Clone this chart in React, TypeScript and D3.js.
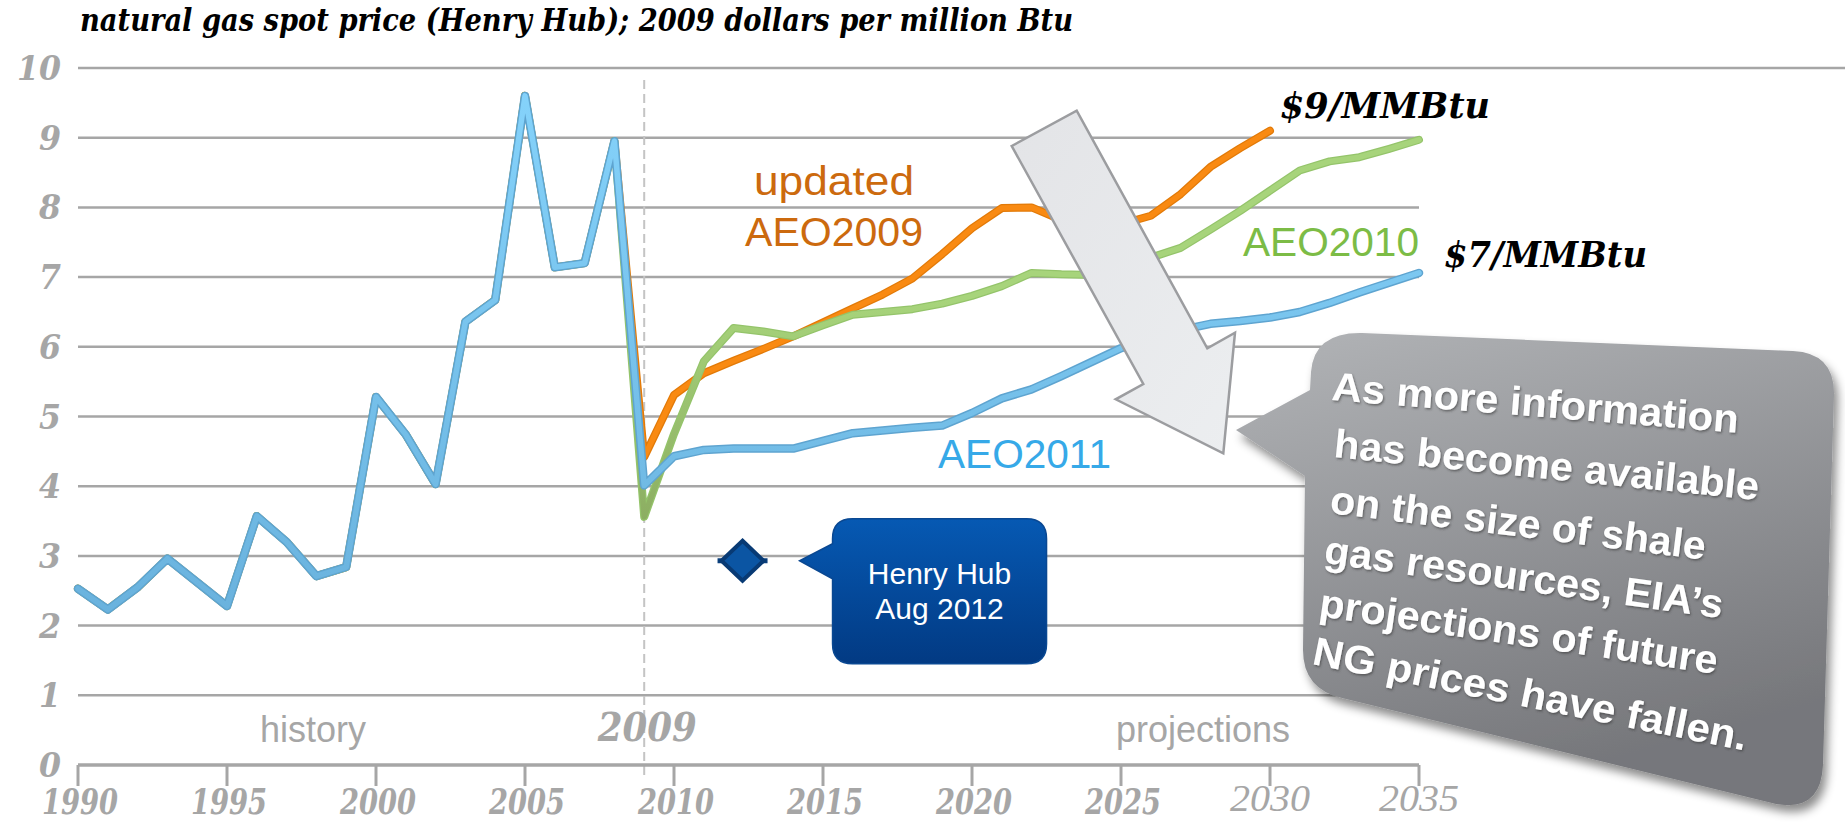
import React from 'react';
import * as d3 from 'd3';

// ---------- DATA ----------
const TITLE = 'natural gas spot price (Henry Hub); 2009 dollars per million Btu';

const HIST_YEARS = [1990, 1991, 1992, 1993, 1994, 1995, 1996, 1997, 1998, 1999, 2000, 2001, 2002, 2003, 2004, 2005, 2006, 2007, 2008];
const HIST_PRICE = [2.53, 2.23, 2.55, 2.96, 2.62, 2.28, 3.57, 3.2, 2.71, 2.84, 5.28, 4.74, 4.03, 6.36, 6.67, 9.6, 7.14, 7.2, 8.95];

const PROJ_YEARS_2030 = [2009, 2010, 2011, 2012, 2013, 2014, 2015, 2016, 2017, 2018, 2019, 2020, 2021, 2022, 2023, 2024, 2025, 2026, 2027, 2028, 2029, 2030];
const PROJ_YEARS_2035 = [2009, 2010, 2011, 2012, 2013, 2014, 2015, 2016, 2017, 2018, 2019, 2020, 2021, 2022, 2023, 2024, 2025, 2026, 2027, 2028, 2029, 2030, 2031, 2032, 2033, 2034, 2035];

const AEO2009_PRICE = [4.42, 5.31, 5.62, 5.8, 5.97, 6.15, 6.35, 6.55, 6.75, 6.98, 7.33, 7.7, 7.99, 8.0, 7.82, 7.72, 7.76, 7.88, 8.19, 8.58, 8.85, 9.1];
const AEO2010_PRICE = [3.56, 4.75, 5.79, 6.27, 6.22, 6.15, 6.31, 6.46, 6.5, 6.54, 6.62, 6.73, 6.87, 7.06, 7.04, 7.03, 7.12, 7.28, 7.42, 7.68, 7.95, 8.24, 8.53, 8.66, 8.72, 8.84, 8.97];
const AEO2011_PRICE = [4.01, 4.43, 4.52, 4.54, 4.54, 4.54, 4.65, 4.76, 4.8, 4.84, 4.87, 5.05, 5.26, 5.39, 5.58, 5.78, 5.98, 6.12, 6.24, 6.33, 6.37, 6.42, 6.5, 6.63, 6.78, 6.92, 7.06];

const HH_AUG2012 = { year: 2012.3, price: 2.93 };

const Y_TICKS = [0, 1, 2, 3, 4, 5, 6, 7, 8, 9, 10];
const X_TICKS = [1990, 1995, 2000, 2005, 2010, 2015, 2020, 2025, 2030, 2035];
const DIVIDER_YEAR = 2009;

const NOTE_LINES = [
  'As more information',
  'has become available',
  'on the size of shale',
  'gas resources, EIA\u2019s',
  'projections of future',
  'NG prices have fallen.',
];

// ---------- LAYOUT ----------
const W = 1845;
const H = 824;
const x = d3.scaleLinear().domain([1990, 2035]).range([78, 1419]);
const y = d3.scaleLinear().domain([0, 10]).range([765, 68]);

const line = d3
  .line<[number, number]>()
  .x((d) => x(d[0]))
  .y((d) => y(d[1]))
  .curve(d3.curveLinear);

const zip = (ys: number[], vs: number[]): [number, number][] => ys.map((yr, i) => [yr, vs[i]]);
const hist = zip(HIST_YEARS, HIST_PRICE);
const orangeData = hist.concat(zip(PROJ_YEARS_2030, AEO2009_PRICE));
const greenData = hist.concat(zip(PROJ_YEARS_2035, AEO2010_PRICE));
const blueData = hist.concat(zip(PROJ_YEARS_2035, AEO2011_PRICE));

const NOTE_LAYOUT = [
  { x: 1331, y: 400, a: 4.6, w: 408 },
  { x: 1333, y: 457, a: 5.8, w: 427 },
  { x: 1329, y: 513, a: 7.1, w: 378 },
  { x: 1323, y: 563, a: 7.9, w: 402 },
  { x: 1318, y: 616, a: 8.3, w: 402 },
  { x: 1311, y: 664, a: 11.3, w: 442 },
];

const GRID = '#a6a6a6';
const serifBI: React.CSSProperties = { fontFamily: "'DejaVu Serif', serif", fontWeight: 'bold', fontStyle: 'italic' };
const sans = "'Liberation Sans', Arial, sans-serif";

export default function App() {
  const hx = x(HH_AUG2012.year);
  const hy = y(HH_AUG2012.price);
  const cx0 = hx + 90, cx1 = hx + 304, cy0 = hy - 42, cy1 = hy + 103, r = 20;
  const tipX = hx + 57;
  const hhPath = `M${cx0 + r},${cy0} H${cx1 - r} Q${cx1},${cy0} ${cx1},${cy0 + r} V${cy1 - r} Q${cx1},${cy1} ${cx1 - r},${cy1} H${cx0 + r} Q${cx0},${cy1} ${cx0},${cy1 - r} V${hy + 18} L${tipX},${hy} L${cx0},${hy - 17} V${cy0 + r} Q${cx0},${cy0} ${cx0 + r},${cy0} Z`;

  const bubblePath =
    'M1362,333 L1793,351 Q1835,353 1834,395 L1823,765 Q1821,812 1776,804 L1342,698 Q1303,689 1303,650 L1305,476 L1236,430 L1310,390 L1311,372 Q1314,332 1362,333 Z';

  const arrowPts = [
    [1011.7, 146],
    [1076.7, 110.7],
    [1207.3, 348.3],
    [1235, 332.7],
    [1223.3, 453.3],
    [1115.7, 399.3],
    [1143.3, 384],
  ]
    .map((p) => p.join(','))
    .join(' ');

  const xDiv = x(DIVIDER_YEAR);

  return (
    <svg width={W} height={H} style={{ position: 'absolute', left: 0, top: 0, background: '#fff' }}>
      <defs>
        <linearGradient id="blueGrad" gradientUnits="userSpaceOnUse" x1="0" y1="68" x2="0" y2="765">
          <stop offset="0" stopColor="#86d4fc" />
          <stop offset="1" stopColor="#62a9d5" />
        </linearGradient>
        <linearGradient id="greenGrad" gradientUnits="userSpaceOnUse" x1="0" y1="300" x2="0" y2="520">
          <stop offset="0" stopColor="#a7d47b" />
          <stop offset="1" stopColor="#8cae62" />
        </linearGradient>
        <linearGradient id="hhGrad" x1="0" y1="0" x2="0" y2="1">
          <stop offset="0" stopColor="#0659b3" />
          <stop offset="1" stopColor="#023a83" />
        </linearGradient>
        <linearGradient id="bubbleGrad" x1="0" y1="0" x2="0.35" y2="1">
          <stop offset="0" stopColor="#b2b4b7" />
          <stop offset="1" stopColor="#76777b" />
        </linearGradient>
        <linearGradient id="arrowGrad" x1="0" y1="0" x2="1" y2="1">
          <stop offset="0" stopColor="#e3e4e7" />
          <stop offset="1" stopColor="#eceef0" />
        </linearGradient>
        <filter id="bubbleShadow" x="-10%" y="-10%" width="130%" height="130%">
          <feDropShadow dx="4" dy="7" stdDeviation="5" floodColor="#000" floodOpacity="0.45" />
        </filter>
        <filter id="textShadow" x="-5%" y="-20%" width="110%" height="150%">
          <feDropShadow dx="1" dy="1.5" stdDeviation="0.8" floodColor="#333" floodOpacity="0.6" />
        </filter>
      </defs>

      {/* title */}
      <text x={80} y={31} fontSize={31} textLength={993} lengthAdjust="spacingAndGlyphs" fill="#000" style={serifBI}>
        {TITLE}
      </text>

      {/* gridlines */}
      {Y_TICKS.filter((t) => t > 0).map((t) => (
        <line key={t} x1={x(1990)} x2={t === 10 ? W : x(2035)} y1={y(t)} y2={y(t)} stroke={GRID} strokeWidth={2.5} />
      ))}
      {/* y labels */}
      {Y_TICKS.map((t) => (
        <text
          key={t}
          x={61}
          y={y(t) + 12}
          textAnchor="end"
          fontSize={34}
          fill={GRID}
          style={serifBI}
          textLength={String(t).length * 22}
          lengthAdjust="spacingAndGlyphs"
        >
          {t}
        </text>
      ))}

      {/* divider */}
      <line x1={xDiv} x2={xDiv} y1={80} y2={778} stroke="#c4c4c4" strokeWidth={2} strokeDasharray="9 5" />

      {/* x axis */}
      <line x1={x(1990)} x2={x(2035)} y1={y(0)} y2={y(0)} stroke={GRID} strokeWidth={3.5} />
      {X_TICKS.map((t) => (
        <g key={t}>
          <line x1={x(t)} x2={x(t)} y1={y(0)} y2={y(0) + 21} stroke={GRID} strokeWidth={3} />
          {t >= 2030 ? (
            <text x={x(t)} y={811} textAnchor="middle" fontSize={38} fill={GRID} fontFamily="'Liberation Serif', serif" fontStyle="italic" textLength={80} lengthAdjust="spacingAndGlyphs">
              {t}
            </text>
          ) : (
            <text x={x(t) + 2} y={814} textAnchor="middle" fontSize={36} fill={GRID} style={serifBI} textLength={76} lengthAdjust="spacingAndGlyphs">
              {t}
            </text>
          )}
        </g>
      ))}

      {/* region labels */}
      <text x={313} y={742} textAnchor="middle" fontSize={36} fill={GRID} fontFamily={sans}>history</text>
      <text x={1203} y={742} textAnchor="middle" fontSize={36} fill={GRID} fontFamily={sans}>projections</text>
      <text x={xDiv + 3} y={741} textAnchor="middle" fontSize={39} fill={GRID} style={serifBI} textLength={99} lengthAdjust="spacingAndGlyphs">{DIVIDER_YEAR}</text>

      {/* series */}
      <path d={line(orangeData) || ''} fill="none" stroke="#e27a08" strokeWidth={8} strokeLinejoin="round" strokeLinecap="round" />
      <path d={line(orangeData) || ''} fill="none" stroke="#f98a12" strokeWidth={5.5} strokeLinejoin="round" strokeLinecap="round" />
      <path d={line(greenData) || ''} fill="none" stroke="#94c46a" strokeWidth={8} strokeLinejoin="round" strokeLinecap="round" />
      <path d={line(greenData) || ''} fill="none" stroke="url(#greenGrad)" strokeWidth={5.5} strokeLinejoin="round" strokeLinecap="round" />
      <path d={line(blueData) || ''} fill="none" stroke="#5ea4d0" strokeWidth={8.5} strokeLinejoin="round" strokeLinecap="round" />
      <path d={line(blueData) || ''} fill="none" stroke="url(#blueGrad)" strokeWidth={5.5} strokeLinejoin="round" strokeLinecap="round" />

      {/* series labels */}
      <text x={834} y={195} textAnchor="middle" fontSize={40} fill="#cc6a0e" fontFamily={sans} textLength={160} lengthAdjust="spacingAndGlyphs">updated</text>
      <text x={834} y={246} textAnchor="middle" fontSize={40} fill="#cc6a0e" fontFamily={sans} textLength={178} lengthAdjust="spacingAndGlyphs">AEO2009</text>
      <text x={1243} y={256} fontSize={40} fill="#7cbc46" fontFamily={sans} textLength={176} lengthAdjust="spacingAndGlyphs">AEO2010</text>
      <text x={938} y={468} fontSize={40} fill="#36a9e8" fontFamily={sans} textLength={173} lengthAdjust="spacingAndGlyphs">AEO2011</text>

      <text x={1280} y={118} fontSize={35} fill="#000" style={serifBI} textLength={210} lengthAdjust="spacingAndGlyphs">$9/MMBtu</text>
      <text x={1444} y={267} fontSize={35} fill="#000" style={serifBI} textLength={203} lengthAdjust="spacingAndGlyphs">$7/MMBtu</text>

      {/* Henry Hub marker */}
      <line x1={hx - 25} x2={hx + 25} y1={hy} y2={hy} stroke="#0a3f7c" strokeWidth={5} />
      <path
        d={`M${hx},${hy - 20} L${hx + 21},${hy} L${hx},${hy + 20} L${hx - 21},${hy} Z`}
        fill="#0b55a3"
        stroke="#083a74"
        strokeWidth={4}
        strokeLinejoin="miter"
      />
      <path d={hhPath} fill="url(#hhGrad)" stroke="#0a4892" strokeWidth={1.5} />
      <text x={(cx0 + cx1) / 2} y={hy + 23} textAnchor="middle" fontSize={30} fill="#fff" fontFamily={sans}>Henry Hub</text>
      <text x={(cx0 + cx1) / 2} y={hy + 58} textAnchor="middle" fontSize={30} fill="#fff" fontFamily={sans}>Aug 2012</text>

      {/* big arrow */}
      <polygon points={arrowPts} fill="url(#arrowGrad)" stroke="#9c9da0" strokeWidth={2.5} strokeLinejoin="miter" />

      {/* gray speech bubble */}
      <path d={bubblePath} fill="url(#bubbleGrad)" filter="url(#bubbleShadow)" />
      <g filter="url(#textShadow)">
        {NOTE_LINES.map((t, i) => {
          const l = NOTE_LAYOUT[i];
          return (
            <text
              key={i}
              transform={`translate(${l.x},${l.y}) rotate(${l.a})`}
              fontSize={40}
              fontWeight="bold"
              fill="#fff"
              fontFamily={sans}
              textLength={l.w}
              lengthAdjust="spacingAndGlyphs"
            >
              {t}
            </text>
          );
        })}
      </g>
    </svg>
  );
}
